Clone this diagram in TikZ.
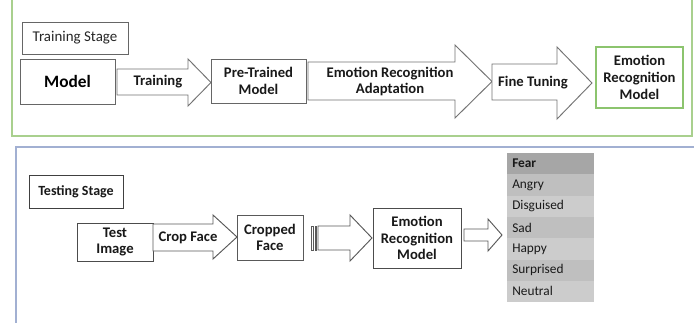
\documentclass[tikz,border=0pt]{standalone}
\usepackage{fontspec}
\setmainfont{Carlito}
\begin{document}
\begin{tikzpicture}[x=0.75pt,y=-0.75pt,
  boxline/.style={draw=black!70,line width=0.7pt,fill=white},
  arrline/.style={draw=black!55,line width=0.7pt,fill=white},
  lbl/.style={font=\bfseries\fontsize{11}{12.5}\selectfont,text=black!90,align=center,inner sep=0pt},
  rowtxt/.style={font=\fontsize{10}{11}\selectfont,text=black!90,anchor=west,inner sep=0pt}]
\useasboundingbox (0,0) rectangle (694,322);
\fill[white] (0,0) rectangle (694,322);
% panels
\draw[draw={rgb,255:red,169;green,208;blue,142},line width=1.1pt] (12,-5) rectangle (692,136);
\draw[draw={rgb,255:red,162;green,176;blue,210},line width=1.4pt] (16,147) rectangle (700,330);

% ---- training stage ----
\node[draw=black!60,line width=0.6pt,minimum width=106*0.75pt,minimum height=32*0.75pt,inner sep=0pt,
  font=\fontsize{11.2}{12}\selectfont,text=black!85] (ts) at (75,38) {Training Stage};
\node[boxline,draw=black!60,minimum width=95*0.75pt,minimum height=45*0.75pt,inner sep=0pt,
  font=\bfseries\fontsize{13}{14}\selectfont] (model) at (67.5,81.5) {Model};
% training arrow
\draw[arrline] (117,69) -- (188,69) -- (188,59) -- (211,82.5) -- (188,106) -- (188,95) -- (117,95) -- cycle;
\node[lbl] (tr) at (158,82) {Training};
\node[boxline,draw=black!60,minimum width=95*0.75pt,minimum height=44*0.75pt,inner sep=0pt,lbl] (pt) at (258.5,81) {Pre-Trained\\Model};
% ERA arrow
\draw[arrline] (308,62) -- (455,62) -- (455,45) -- (492,81.5) -- (455,118) -- (455,100) -- (308,100) -- cycle;
\node[lbl] (era) at (390,81.5) {Emotion Recognition\\Adaptation};
% fine tuning arrow
\draw[arrline] (492,64) -- (557,64) -- (557,47) -- (592,83) -- (557,119) -- (557,100) -- (492,100) -- cycle;
\node[lbl] (ft) at (533,83) {Fine Tuning};
\node[draw={rgb,255:red,140;green,196;blue,110},line width=0.8pt,fill=white,minimum width=87*0.75pt,minimum height=61*0.75pt,inner sep=0pt,lbl] (erm1) at (639.5,77.5) {Emotion\\Recognition\\Model};

% ---- testing stage ----
\node[draw=black!75,line width=0.7pt,minimum width=94*0.75pt,minimum height=33*0.75pt,inner sep=0pt,
  font=\bfseries\fontsize{10.5}{12}\selectfont,text=black!90] (tst) at (76,191.5) {Testing Stage};
\node[boxline,minimum width=76*0.75pt,minimum height=38*0.75pt,lbl] (ti) at (115,242) {Test\\Image};
% crop face arrow
\draw[arrline,draw=black!65] (153,224) -- (213,224) -- (213,215) -- (237,237) -- (213,259) -- (213,251) -- (153,251) -- cycle;
\node[lbl] (cf) at (188,237.5) {Crop Face};
\node[boxline,draw=black!65,minimum width=66*0.75pt,minimum height=45*0.75pt,lbl] (cface) at (270,237.5) {Cropped\\Face};
% striped arrow
\draw[draw=black!65,line width=0.45pt,fill=white] (311.5,226) rectangle (313.5,250);
\draw[draw=black!65,line width=0.45pt,fill=white] (315,226) rectangle (316.5,250);
\draw[arrline,draw=black!65] (318,226) -- (350,226) -- (350,215) -- (372,238) -- (350,261) -- (350,250) -- (318,250) -- cycle;
\node[boxline,minimum width=88*0.75pt,minimum height=60*0.75pt,lbl] (erm2) at (417,238) {Emotion\\Recognition\\Model};
% small arrow
\draw[arrline,draw=black!65] (464,229) -- (488,229) -- (488,219) -- (502,235) -- (488,251) -- (488,241) -- (464,241) -- cycle;

% emotion table
\fill[black!35] (507,153) rectangle (594,174.3);
\fill[black!25] (507,174.3) rectangle (594,195.6);
\fill[black!20] (507,195.6) rectangle (594,216.9);
\fill[black!25] (507,216.9) rectangle (594,238.2);
\fill[black!20] (507,238.2) rectangle (594,259.5);
\fill[black!25] (507,259.5) rectangle (594,280.8);
\fill[black!20] (507,280.8) rectangle (594,302.1);
\node[rowtxt,font=\bfseries\fontsize{10}{11}\selectfont] (r1) at (512,163.6) {Fear};
\node[rowtxt] (r2) at (512,184.9) {Angry};
\node[rowtxt] (r3) at (512,206.2) {Disguised};
\node[rowtxt] (r4) at (512,227.5) {Sad};
\node[rowtxt] (r5) at (512,248.8) {Happy};
\node[rowtxt] (r6) at (512,270.1) {Surprised};
\node[rowtxt] (r7) at (512,291.4) {Neutral};
\end{tikzpicture}
\end{document}
